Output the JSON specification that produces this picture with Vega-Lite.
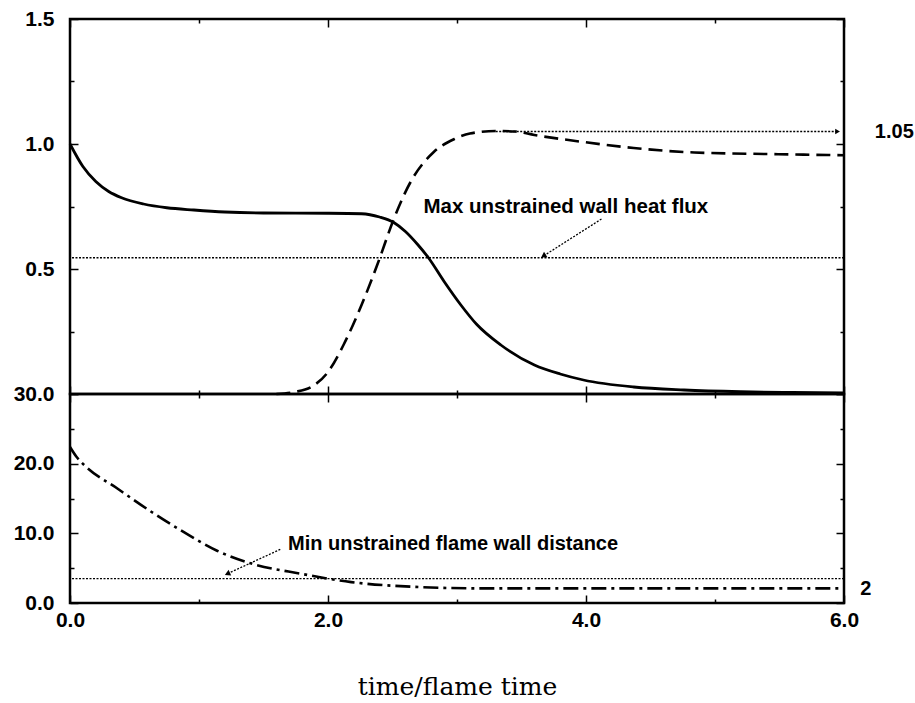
{
  "$schema": "https://vega.github.io/schema/vega-lite/v6.json",
  "background": "white",
  "padding": {"left": 11, "top": 6, "right": 5, "bottom": 5},
  "spacing": 0,
  "bounds": "flush",
  "datasets": {
    "curves": [
      {"series": "heat", "t": 0.0, "v": 1.0},
      {"series": "heat", "t": 0.1, "v": 0.91},
      {"series": "heat", "t": 0.2, "v": 0.85},
      {"series": "heat", "t": 0.3, "v": 0.81},
      {"series": "heat", "t": 0.4, "v": 0.785},
      {"series": "heat", "t": 0.57, "v": 0.76},
      {"series": "heat", "t": 0.75, "v": 0.745},
      {"series": "heat", "t": 0.96, "v": 0.736},
      {"series": "heat", "t": 1.2, "v": 0.728},
      {"series": "heat", "t": 1.5, "v": 0.724},
      {"series": "heat", "t": 2.0, "v": 0.723},
      {"series": "heat", "t": 2.26, "v": 0.721},
      {"series": "heat", "t": 2.4, "v": 0.708},
      {"series": "heat", "t": 2.51, "v": 0.686},
      {"series": "heat", "t": 2.6, "v": 0.65},
      {"series": "heat", "t": 2.7, "v": 0.595},
      {"series": "heat", "t": 2.78, "v": 0.544},
      {"series": "heat", "t": 2.9, "v": 0.45},
      {"series": "heat", "t": 3.03, "v": 0.356},
      {"series": "heat", "t": 3.15, "v": 0.28},
      {"series": "heat", "t": 3.34, "v": 0.196},
      {"series": "heat", "t": 3.6, "v": 0.116},
      {"series": "heat", "t": 3.8, "v": 0.08},
      {"series": "heat", "t": 3.98, "v": 0.056},
      {"series": "heat", "t": 4.37, "v": 0.028},
      {"series": "heat", "t": 4.76, "v": 0.016},
      {"series": "heat", "t": 5.2, "v": 0.009},
      {"series": "heat", "t": 5.6, "v": 0.006},
      {"series": "heat", "t": 6.0, "v": 0.004},
      {"series": "strain", "t": 1.6, "v": 0.0},
      {"series": "strain", "t": 1.74, "v": 0.008},
      {"series": "strain", "t": 1.87, "v": 0.028},
      {"series": "strain", "t": 2.0, "v": 0.088},
      {"series": "strain", "t": 2.12, "v": 0.196},
      {"series": "strain", "t": 2.26, "v": 0.356},
      {"series": "strain", "t": 2.39, "v": 0.528},
      {"series": "strain", "t": 2.51, "v": 0.7},
      {"series": "strain", "t": 2.64, "v": 0.848},
      {"series": "strain", "t": 2.82, "v": 0.968},
      {"series": "strain", "t": 2.98, "v": 1.02},
      {"series": "strain", "t": 3.1, "v": 1.042},
      {"series": "strain", "t": 3.3, "v": 1.052},
      {"series": "strain", "t": 3.45, "v": 1.05},
      {"series": "strain", "t": 3.6, "v": 1.036},
      {"series": "strain", "t": 3.98, "v": 1.008},
      {"series": "strain", "t": 4.37, "v": 0.984},
      {"series": "strain", "t": 4.84, "v": 0.966},
      {"series": "strain", "t": 5.4, "v": 0.96},
      {"series": "strain", "t": 6.0, "v": 0.955},
      {"series": "dist", "t": 0.0, "v": 22.4},
      {"series": "dist", "t": 0.05, "v": 21.0},
      {"series": "dist", "t": 0.11, "v": 19.8},
      {"series": "dist", "t": 0.37, "v": 16.4},
      {"series": "dist", "t": 0.63, "v": 13.1},
      {"series": "dist", "t": 0.88, "v": 10.2},
      {"series": "dist", "t": 1.14, "v": 7.5},
      {"series": "dist", "t": 1.4, "v": 5.7},
      {"series": "dist", "t": 1.79, "v": 4.2},
      {"series": "dist", "t": 2.18, "v": 3.0},
      {"series": "dist", "t": 2.7, "v": 2.3},
      {"series": "dist", "t": 3.2, "v": 2.1},
      {"series": "dist", "t": 4.0, "v": 2.1},
      {"series": "dist", "t": 5.0, "v": 2.1},
      {"series": "dist", "t": 6.0, "v": 2.1}
    ],
    "refs": [
      {"panel": "top", "level": 0.545},
      {"panel": "bottom", "level": 3.5}
    ],
    "arrows": [
      {"panel": "top", "id": "peak", "x": 3.3, "y": 1.05, "x2": 5.95, "y2": 1.05},
      {"panel": "top", "id": "heat", "x": 4.12, "y": 0.7, "x2": 3.67, "y2": 0.552},
      {"panel": "bottom", "id": "dist", "x": 1.63, "y": 7.7, "x2": 1.22, "y2": 4.2}
    ],
    "notes": [
      {"panel": "top", "x": 2.74, "y": 0.748, "text": "Max unstrained wall heat flux"},
      {"panel": "bottom", "x": 1.69, "y": 8.5, "text": "Min unstrained flame wall distance"}
    ],
    "sidelabels": [
      {"panel": "top", "x": 6.39, "y": 1.05, "text": "1.05"},
      {"panel": "bottom", "x": 6.17, "y": 2.0, "text": "2"}
    ]
  },
  "vconcat": [
    {
      "width": 774,
      "height": 375,
      "layer": [
        {
          "data": {"name": "curves"},
          "transform": [{"filter": "datum.series == 'heat'"}],
          "mark": {"type": "line", "color": "black", "strokeWidth": 2.8, "interpolate": "monotone"},
          "encoding": {
            "x": {"field": "t", "type": "quantitative", "scale": {"domain": [0, 6], "nice": false},
                  "axis": {"orient": "bottom", "values": [0, 1, 2, 3, 4, 5, 6], "labels": false, "title": null,
                           "tickSize": {"condition": {"test": "datum.value % 2 == 0", "value": -8}, "value": -4}}},
            "y": {"field": "v", "type": "quantitative", "scale": {"domain": [0, 1.5], "nice": false},
                  "axis": {"orient": "left", "values": [0, 0.25, 0.5, 0.75, 1, 1.25, 1.5], "title": null,
                           "labelExpr": "(datum.value > 0 && abs(datum.value * 2 - round(datum.value * 2)) < 0.001) ? format(datum.value, '.1f') : ''",
                           "labelPadding": 24,
                           "tickSize": {"condition": {"test": "abs(datum.value * 2 - round(datum.value * 2)) < 0.001", "value": -8}, "value": -4}}}
          }
        },
        {
          "data": {"name": "curves"},
          "transform": [{"filter": "datum.series == 'strain'"}],
          "mark": {"type": "line", "color": "black", "strokeWidth": 2.6, "strokeDash": [14, 7], "interpolate": "monotone"},
          "encoding": {
            "x": {"field": "t", "type": "quantitative",
                  "axis": {"orient": "top", "values": [0, 1, 2, 3, 4, 5, 6], "labels": false, "title": null,
                           "tickSize": {"condition": {"test": "datum.value % 2 == 0", "value": -8}, "value": -4}}},
            "y": {"field": "v", "type": "quantitative",
                  "axis": {"orient": "right", "values": [0, 0.25, 0.5, 0.75, 1, 1.25, 1.5], "labels": false, "title": null,
                           "tickSize": {"condition": {"test": "abs(datum.value * 2 - round(datum.value * 2)) < 0.001", "value": -8}, "value": -4}}}
          }
        },
        {
          "data": {"name": "refs"},
          "transform": [{"filter": "datum.panel == 'top'"}],
          "mark": {"type": "rule", "color": "black", "strokeWidth": 1.3, "strokeDash": [2, 1.5]},
          "encoding": {"y": {"field": "level", "type": "quantitative", "axis": null}}
        },
        {
          "data": {"name": "arrows"},
          "transform": [{"filter": "datum.panel == 'top'"}],
          "mark": {"type": "rule", "color": "black", "strokeWidth": 1.3, "strokeDash": [2, 1.5]},
          "encoding": {
            "x": {"field": "x", "type": "quantitative", "axis": null},
            "y": {"field": "y", "type": "quantitative", "axis": null},
            "x2": {"field": "x2"},
            "y2": {"field": "y2"}
          }
        },
        {
          "data": {"name": "arrows"},
          "transform": [{"filter": "datum.id == 'peak'"}],
          "mark": {"type": "point", "shape": "triangle-up", "filled": true, "color": "black", "size": 30, "angle": 90, "opacity": 1},
          "encoding": {
            "x": {"field": "x2", "type": "quantitative", "axis": null},
            "y": {"field": "y2", "type": "quantitative", "axis": null}
          }
        },
        {
          "data": {"name": "arrows"},
          "transform": [{"filter": "datum.id == 'heat'"}],
          "mark": {"type": "point", "shape": "triangle-up", "filled": true, "color": "black", "size": 40, "angle": 237, "opacity": 1},
          "encoding": {
            "x": {"field": "x2", "type": "quantitative", "axis": null},
            "y": {"field": "y2", "type": "quantitative", "axis": null}
          }
        },
        {
          "data": {"name": "notes"},
          "transform": [{"filter": "datum.panel == 'top'"}],
          "mark": {"type": "text", "align": "left", "baseline": "middle", "color": "black", "fontSize": 20.5},
          "encoding": {
            "x": {"field": "x", "type": "quantitative", "axis": null},
            "y": {"field": "y", "type": "quantitative", "axis": null},
            "text": {"field": "text"}
          }
        },
        {
          "data": {"name": "sidelabels"},
          "transform": [{"filter": "datum.panel == 'top'"}],
          "mark": {"type": "text", "align": "center", "baseline": "middle", "color": "black"},
          "encoding": {
            "x": {"field": "x", "type": "quantitative", "axis": null},
            "y": {"field": "y", "type": "quantitative", "axis": null},
            "text": {"field": "text"}
          }
        }
      ],
      "resolve": {"axis": {"x": "independent", "y": "independent"}}
    },
    {
      "width": 774,
      "height": 209,
      "layer": [
        {
          "data": {"name": "curves"},
          "transform": [{"filter": "datum.series == 'dist'"}],
          "mark": {"type": "line", "color": "black", "strokeWidth": 2.6, "strokeDash": [15, 5, 3, 5], "interpolate": "monotone"},
          "encoding": {
            "x": {"field": "t", "type": "quantitative", "scale": {"domain": [0, 6], "nice": false},
                  "axis": {"orient": "bottom", "values": [0, 1, 2, 3, 4, 5, 6], "title": "time/flame time",
                           "labelExpr": "datum.value % 2 == 0 ? format(datum.value, '.1f') : ''",
                           "labelFlush": false, "labelPadding": 14, "titlePadding": 44,
                           "tickSize": {"condition": {"test": "datum.value % 2 == 0", "value": -8}, "value": -4}}},
            "y": {"field": "v", "type": "quantitative", "scale": {"domain": [0, 30], "nice": false},
                  "axis": {"orient": "left", "values": [0, 5, 10, 15, 20, 25, 30], "title": null,
                           "labelExpr": "datum.value % 10 == 0 ? format(datum.value, '.1f') : ''",
                           "labelPadding": 24,
                           "tickSize": {"condition": {"test": "datum.value % 10 == 0", "value": -8}, "value": -4}}}
          }
        },
        {
          "data": {"name": "curves"},
          "transform": [{"filter": "datum.series == 'dist'"}],
          "mark": {"type": "line", "opacity": 0},
          "encoding": {
            "x": {"field": "t", "type": "quantitative",
                  "axis": {"orient": "top", "values": [0, 1, 2, 3, 4, 5, 6], "labels": false, "title": null,
                           "tickSize": {"condition": {"test": "datum.value % 2 == 0", "value": -8}, "value": -4}}},
            "y": {"field": "v", "type": "quantitative",
                  "axis": {"orient": "right", "values": [0, 5, 10, 15, 20, 25, 30], "labels": false, "title": null,
                           "tickSize": {"condition": {"test": "datum.value % 10 == 0", "value": -8}, "value": -4}}}
          }
        },
        {
          "data": {"name": "refs"},
          "transform": [{"filter": "datum.panel == 'bottom'"}],
          "mark": {"type": "rule", "color": "black", "strokeWidth": 1.3, "strokeDash": [2, 1.5]},
          "encoding": {"y": {"field": "level", "type": "quantitative", "axis": null}}
        },
        {
          "data": {"name": "arrows"},
          "transform": [{"filter": "datum.panel == 'bottom'"}],
          "mark": {"type": "rule", "color": "black", "strokeWidth": 1.3, "strokeDash": [2, 1.5]},
          "encoding": {
            "x": {"field": "x", "type": "quantitative", "axis": null},
            "y": {"field": "y", "type": "quantitative", "axis": null},
            "x2": {"field": "x2"},
            "y2": {"field": "y2"}
          }
        },
        {
          "data": {"name": "arrows"},
          "transform": [{"filter": "datum.id == 'dist'"}],
          "mark": {"type": "point", "shape": "triangle-up", "filled": true, "color": "black", "size": 40, "angle": 245, "opacity": 1},
          "encoding": {
            "x": {"field": "x2", "type": "quantitative", "axis": null},
            "y": {"field": "y2", "type": "quantitative", "axis": null}
          }
        },
        {
          "data": {"name": "notes"},
          "transform": [{"filter": "datum.panel == 'bottom'"}],
          "mark": {"type": "text", "align": "left", "baseline": "middle", "color": "black"},
          "encoding": {
            "x": {"field": "x", "type": "quantitative", "axis": null},
            "y": {"field": "y", "type": "quantitative", "axis": null},
            "text": {"field": "text"}
          }
        },
        {
          "data": {"name": "sidelabels"},
          "transform": [{"filter": "datum.panel == 'bottom'"}],
          "mark": {"type": "text", "align": "center", "baseline": "middle", "color": "black"},
          "encoding": {
            "x": {"field": "x", "type": "quantitative", "axis": null},
            "y": {"field": "y", "type": "quantitative", "axis": null},
            "text": {"field": "text"}
          }
        }
      ],
      "resolve": {"axis": {"x": "independent", "y": "independent"}}
    }
  ],
  "config": {
    "view": {"stroke": "black", "strokeWidth": 2.5},
    "axis": {
      "domain": false, "grid": false, "ticks": true, "tickColor": "black", "tickWidth": 1.5,
      "labelFont": "Liberation Sans", "labelFontWeight": "bold", "labelFontSize": 21, "labelColor": "black",
      "titleFont": "DejaVu Serif", "titleFontWeight": "normal", "titleFontSize": 25, "titleColor": "black"
    },
    "text": {"font": "Liberation Sans", "fontWeight": "bold", "fontSize": 20}
  }
}
